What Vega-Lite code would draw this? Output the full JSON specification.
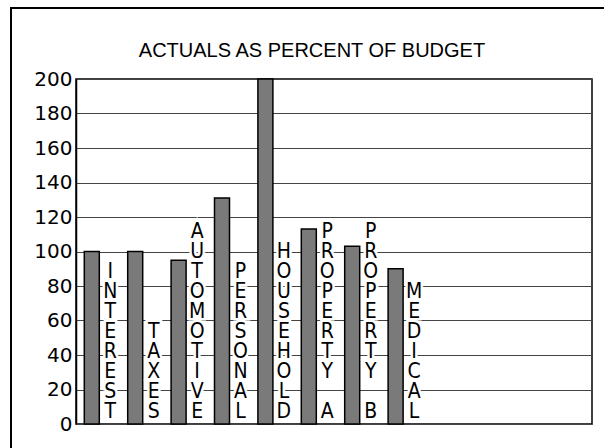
{
  "$schema": "https://vega.github.io/schema/vega-lite/v6.json",
  "width": 516,
  "height": 345,
  "autosize": {"type": "none"},
  "padding": {"left": 76, "top": 79, "right": 12, "bottom": 24},
  "background": "white",
  "config": {
    "view": {"stroke": "black", "strokeWidth": 1.5},
    "font": "Liberation Sans",
    "axisY": {
      "title": null,
      "values": [0, 20, 40, 60, 80, 100, 120, 140, 160, 180, 200],
      "grid": true,
      "gridColor": "#444",
      "gridWidth": 1,
      "gridOpacity": 1,
      "domainColor": "black",
      "domainWidth": 1.5,
      "ticks": false,
      "labelPadding": 4,
      "labelFont": "DejaVu Sans",
      "labelFontSize": 20,
      "labelColor": "black",
      "labelOverlap": false
    }
  },
  "title": {
    "text": "ACTUALS AS PERCENT OF BUDGET",
    "font": "Liberation Sans",
    "fontSize": 20,
    "fontWeight": "normal",
    "color": "black",
    "anchor": "middle",
    "frame": "group",
    "dx": -22,
    "offset": -54
  },
  "data": {
    "values": [
      {"order": 1, "cat": "INTEREST", "value": 100, "label": "\u200b\n\u200b\nI\nN\nT\nE\nR\nE\nS\nT"},
      {"order": 2, "cat": "TAXES", "value": 100, "label": "\u200b\n\u200b\n\u200b\n\u200b\n\u200b\nT\nA\nX\nE\nS"},
      {"order": 3, "cat": "AUTOMOTIVE", "value": 95, "label": "A\nU\nT\nO\nM\nO\nT\nI\nV\nE"},
      {"order": 4, "cat": "PERSONAL", "value": 131, "label": "\u200b\n\u200b\nP\nE\nR\nS\nO\nN\nA\nL"},
      {"order": 5, "cat": "HOUSEHOLD", "value": 200, "label": "\u200b\nH\nO\nU\nS\nE\nH\nO\nL\nD"},
      {"order": 6, "cat": "PROPERTY A", "value": 113, "label": "P\nR\nO\nP\nE\nR\nT\nY\n\u200b\nA"},
      {"order": 7, "cat": "PROPERTY B", "value": 103, "label": "P\nR\nO\nP\nE\nR\nT\nY\n\u200b\nB"},
      {"order": 8, "cat": "MEDICAL", "value": 90, "label": "\u200b\n\u200b\n\u200b\nM\nE\nD\nI\nC\nA\nL"}
    ]
  },
  "encoding": {
    "x": {
      "field": "order",
      "type": "quantitative",
      "axis": null,
      "scale": {"domain": [0.636, 12.525], "nice": false, "zero": false, "padding": 0}
    }
  },
  "layer": [
    {
      "mark": {"type": "bar", "size": 15, "fill": "#7a7a7a", "stroke": "black", "strokeWidth": 1.5},
      "encoding": {
        "y": {
          "field": "value",
          "type": "quantitative",
          "scale": {"domain": [0, 200], "nice": false, "zero": true}
        }
      }
    },
    {
      "mark": {
        "type": "text",
        "lineBreak": "\n",
        "lineHeight": 20,
        "font": "Liberation Sans Narrow, DejaVu Sans Condensed, Liberation Sans",
        "fontSize": 21,
        "baseline": "alphabetic",
        "align": "center",
        "dx": 18.5,
        "dy": -186,
        "fill": "white",
        "stroke": "white",
        "strokeWidth": 5
      },
      "encoding": {
        "y": {"datum": 0, "type": "quantitative"},
        "text": {"field": "label"}
      }
    },
    {
      "mark": {
        "type": "text",
        "lineBreak": "\n",
        "lineHeight": 20,
        "font": "Liberation Sans Narrow, DejaVu Sans Condensed, Liberation Sans",
        "fontSize": 21,
        "baseline": "alphabetic",
        "align": "center",
        "dx": 18.5,
        "dy": -186,
        "fill": "black"
      },
      "encoding": {
        "y": {"datum": 0, "type": "quantitative"},
        "text": {"field": "label"}
      }
    },
    {
      "mark": {"type": "rect", "fill": "transparent", "stroke": "black", "strokeWidth": 1.5, "clip": false},
      "encoding": {
        "x": {"datum": -0.862, "type": "quantitative"},
        "x2": {"datum": 14},
        "y": {"datum": 241.2, "type": "quantitative"},
        "y2": {"datum": -40}
      }
    }
  ]
}
